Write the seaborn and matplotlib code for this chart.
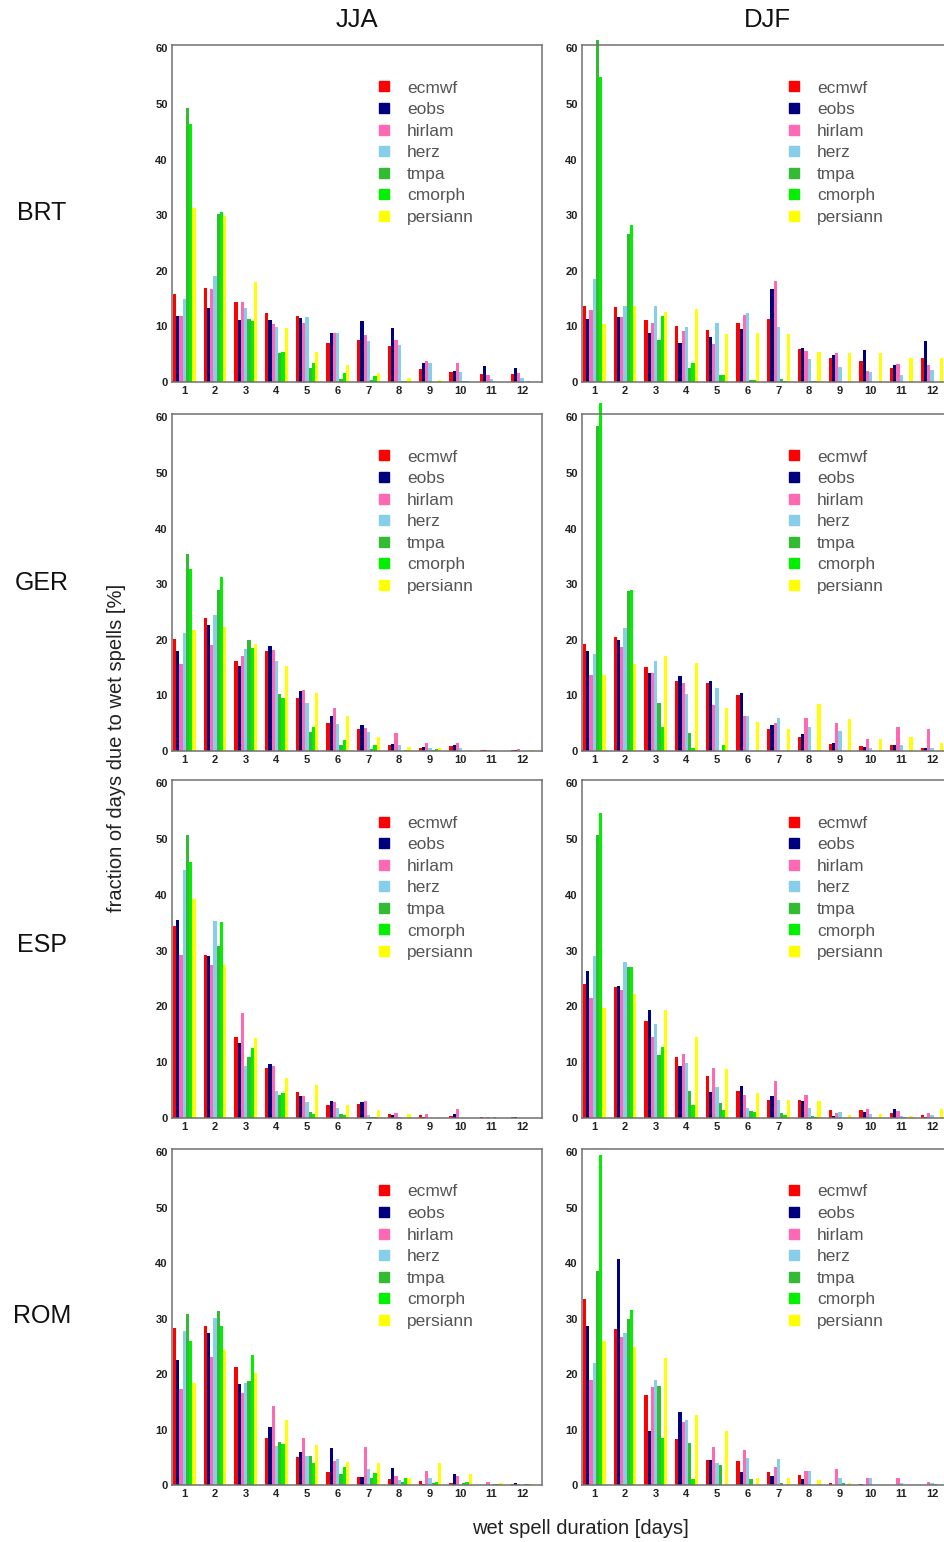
import pandas as pd
import seaborn as sns
import matplotlib.pyplot as plt
from matplotlib.lines import Line2D

days = list(range(1, 13))
products = ['ecmwf', 'eobs', 'hirlam', 'herz', 'tmpa', 'cmorph', 'persiann']
colors = ['#ff0000', '#00007f', '#ff69b4', '#87ceeb', '#33bb33', '#00f000', '#ffff00']
regions = ['BRT', 'GER', 'ESP', 'ROM']
seasons = ['JJA', 'DJF']

# one row per product (same order as `products`), one column per day 1..12
brt_jja = [
    [15.8, 16.9, 14.4, 12.4, 11.8, 7.0, 7.6, 6.5, 2.3, 1.8, 1.5, 1.5],
    [11.9, 13.3, 11.1, 11.2, 11.5, 8.9, 10.9, 9.7, 3.4, 2.0, 2.9, 2.5],
    [11.9, 16.8, 14.3, 10.5, 10.6, 8.9, 8.5, 7.5, 3.7, 3.5, 1.3, 1.7],
    [15.0, 19.0, 13.3, 9.9, 11.7, 8.8, 7.4, 6.7, 3.4, 1.8, 0.6, 0.8],
    [49.3, 30.2, 11.3, 5.2, 2.6, 0.5, 0.3, 0.1, 0.0, 0.1, 0.0, 0.0],
    [46.4, 30.5, 10.9, 5.4, 3.4, 1.6, 1.0, 0.2, 0.0, 0.1, 0.0, 0.1],
    [31.3, 29.8, 17.9, 9.7, 5.4, 3.0, 1.6, 0.8, 0.3, 0.0, 0.0, 0.0],
]
brt_djf = [
    [13.6, 13.4, 11.1, 10.1, 9.3, 10.6, 11.4, 6.0, 4.3, 3.8, 2.5, 4.3],
    [11.3, 11.7, 8.8, 7.1, 8.1, 9.5, 16.8, 6.1, 4.9, 5.8, 3.1, 7.4],
    [13.0, 11.7, 10.6, 9.2, 6.9, 12.0, 18.1, 5.5, 5.2, 1.9, 3.2, 3.1],
    [18.5, 13.6, 13.6, 9.9, 10.6, 12.4, 9.9, 4.1, 2.7, 1.8, 1.3, 2.2],
    [61.5, 26.6, 7.6, 2.5, 1.2, 0.4, 0.5, 0.2, 0.0, 0.0, 0.0, 0.0],
    [54.9, 28.2, 11.9, 3.5, 1.2, 0.4, 0.2, 0.1, 0.0, 0.0, 0.0, 0.0],
    [10.4, 13.7, 12.5, 13.1, 8.7, 8.9, 8.7, 5.4, 5.3, 5.2, 4.3, 4.3],
]
ger_jja = [
    [20.2, 23.9, 16.2, 17.9, 9.6, 5.1, 3.9, 1.0, 0.6, 0.9, 0.1, 0.1],
    [18.0, 22.7, 15.2, 18.9, 10.7, 6.3, 4.7, 1.3, 0.7, 1.1, 0.2, 0.1],
    [15.6, 19.0, 17.1, 18.1, 10.9, 7.7, 4.1, 3.2, 1.4, 1.4, 0.2, 0.3],
    [21.2, 24.5, 18.3, 16.1, 8.7, 4.9, 3.5, 1.0, 0.6, 0.6, 0.1, 0.0],
    [35.5, 29.0, 20.0, 10.3, 3.4, 1.0, 0.4, 0.0, 0.2, 0.0, 0.0, 0.0],
    [32.7, 31.2, 18.5, 9.6, 4.3, 2.0, 1.1, 0.1, 0.4, 0.0, 0.0, 0.0],
    [21.8, 22.3, 19.3, 15.3, 10.4, 6.3, 2.6, 0.7, 0.5, 0.2, 0.0, 0.2],
]
ger_djf = [
    [19.2, 20.5, 15.1, 12.6, 12.2, 10.1, 3.9, 2.6, 1.3, 0.9, 1.0, 0.6],
    [17.9, 19.9, 14.1, 13.4, 12.6, 10.4, 4.7, 3.0, 1.4, 0.7, 1.1, 0.6],
    [13.7, 18.7, 14.1, 12.2, 8.3, 6.3, 5.1, 5.9, 5.1, 2.2, 4.3, 4.0],
    [17.4, 22.2, 16.1, 10.2, 11.3, 6.3, 6.0, 4.4, 3.6, 0.5, 1.0, 0.5],
    [58.5, 28.8, 8.7, 3.2, 0.0, 0.0, 0.0, 0.0, 0.0, 0.0, 0.0, 0.0],
    [62.5, 28.9, 4.4, 0.5, 1.0, 0.0, 0.0, 0.0, 0.0, 0.0, 0.0, 0.0],
    [13.7, 15.7, 17.1, 15.9, 7.7, 5.2, 4.0, 8.4, 5.7, 2.2, 2.6, 1.4],
]
esp_jja = [
    [34.4, 29.3, 14.6, 8.9, 4.7, 2.3, 2.5, 0.8, 0.6, 0.4, 0.2, 0.2],
    [35.5, 29.0, 13.4, 9.6, 3.9, 3.1, 2.9, 0.5, 0.2, 0.8, 0.0, 0.1],
    [29.3, 27.4, 18.9, 9.3, 4.0, 2.9, 3.1, 0.9, 0.8, 1.7, 0.2, 0.0],
    [44.4, 35.4, 9.3, 4.8, 2.9, 1.8, 0.6, 0.1, 0.0, 0.0, 0.0, 0.0],
    [50.8, 30.9, 11.0, 4.1, 1.0, 0.7, 0.2, 0.0, 0.0, 0.0, 0.2, 0.0],
    [45.9, 35.2, 12.6, 4.4, 0.7, 0.5, 0.2, 0.0, 0.0, 0.0, 0.0, 0.0],
    [39.3, 27.4, 14.4, 7.2, 6.0, 2.4, 1.4, 0.7, 0.1, 0.0, 0.0, 0.0],
]
esp_djf = [
    [24.1, 23.4, 17.4, 10.9, 7.5, 4.8, 3.3, 3.3, 1.4, 1.4, 0.9, 0.5],
    [26.4, 23.6, 19.3, 9.3, 4.6, 5.8, 4.0, 3.1, 0.4, 1.1, 1.6, 0.2],
    [21.5, 22.9, 14.6, 11.5, 9.0, 4.1, 6.7, 4.1, 0.9, 1.6, 1.2, 0.9],
    [29.1, 28.0, 16.8, 9.9, 5.6, 1.8, 3.2, 1.8, 1.1, 0.8, 0.3, 0.6],
    [50.7, 27.1, 11.3, 4.8, 2.7, 1.2, 0.9, 0.4, 0.0, 0.0, 0.1, 0.0],
    [54.7, 27.1, 12.7, 2.3, 1.5, 1.1, 0.5, 0.2, 0.0, 0.0, 0.0, 0.0],
    [19.8, 22.3, 19.3, 14.5, 8.7, 4.5, 3.3, 3.1, 0.6, 0.8, 0.3, 1.7],
]
rom_jja = [
    [28.3, 28.7, 21.3, 8.5, 5.0, 2.3, 1.4, 1.0, 0.8, 0.3, 0.0, 0.2],
    [22.5, 27.4, 18.3, 10.4, 6.0, 6.7, 1.4, 3.1, 0.2, 2.0, 0.0, 0.3],
    [17.4, 23.1, 16.6, 14.3, 8.4, 4.4, 6.8, 1.7, 2.6, 1.6, 0.6, 0.2],
    [27.7, 30.2, 18.4, 7.1, 5.2, 4.7, 2.9, 0.9, 1.2, 0.1, 0.0, 0.0],
    [30.9, 31.4, 18.7, 7.7, 5.2, 2.0, 1.2, 0.5, 0.3, 0.3, 0.1, 0.1],
    [26.0, 28.7, 23.5, 7.4, 4.0, 3.3, 2.1, 1.2, 0.6, 0.6, 0.2, 0.2],
    [18.4, 24.3, 20.2, 11.7, 7.2, 4.1, 3.9, 1.2, 3.9, 2.0, 0.3, 0.2],
]
rom_djf = [
    [33.5, 28.2, 16.3, 8.3, 4.5, 4.3, 2.4, 1.8, 0.3, 0.2, 0.0, 0.0],
    [28.7, 40.7, 9.7, 13.1, 4.5, 2.4, 1.6, 1.0, 0.0, 0.0, 0.0, 0.0],
    [18.9, 26.7, 17.6, 11.4, 6.8, 6.3, 3.2, 2.6, 2.8, 1.3, 1.3, 0.6],
    [22.0, 27.5, 19.0, 11.8, 4.0, 4.8, 4.6, 2.6, 1.2, 1.2, 0.3, 0.4],
    [38.6, 30.0, 17.9, 7.6, 3.6, 1.0, 0.3, 0.0, 0.4, 0.0, 0.0, 0.2],
    [59.6, 31.6, 8.4, 1.0, 0.0, 0.0, 0.0, 0.0, 0.0, 0.0, 0.0, 0.0],
    [26.0, 24.8, 22.9, 12.7, 9.7, 1.3, 1.3, 0.9, 0.3, 0.0, 0.0, 0.0],
]

panels = [[brt_jja, brt_djf], [ger_jja, ger_djf], [esp_jja, esp_djf], [rom_jja, rom_djf]]

sns.set_style("white")
plt.rcParams['font.family'] = ['Liberation Sans', 'DejaVu Sans']

W, H = 945, 1542
fig = plt.figure(figsize=(W / 100, H / 100), dpi=100)

col_left = [172, 582]
ax_w = 370
row_tb = [(45, 382), (414, 751), (780, 1118), (1149, 1485)]
palette = dict(zip(products, colors))

for r, (top, bot) in enumerate(row_tb):
    for c in range(2):
        ax = fig.add_axes([col_left[c] / W, 1 - bot / H, ax_w / W, (bot - top) / H])
        table = panels[r][c]
        df = pd.DataFrame([(d, p, table[i][j]) for i, p in enumerate(products)
                           for j, d in enumerate(days)], columns=['day', 'product', 'value'])
        sns.barplot(data=df, x='day', y='value', hue='product', order=days,
                    hue_order=products, palette=palette, saturation=1, width=0.74,
                    errorbar=None, legend=False, linewidth=0, ax=ax)
        for p in ax.patches:
            p.set_clip_on(False)
        ax.set_xlim(-0.4, 11.65)
        ax.set_ylim(0, 60.6)
        ax.set_yticks(range(0, 61, 10))
        ax.set_xlabel('')
        ax.set_ylabel('')
        ax.tick_params(length=0, labelsize=8, pad=3, colors='#222222')
        for t in ax.get_xticklabels() + ax.get_yticklabels():
            t.set_fontweight('bold')
        for s in ax.spines.values():
            s.set_color('#707070')
            s.set_linewidth(1.1)
        handles = [Line2D([], [], marker='s', ls='none', color=col, markersize=7.5)
                   for col in colors]
        ax.legend(handles, products, loc='upper left', bbox_to_anchor=(0.554, 0.895),
                  frameon=False, fontsize=12.5, labelspacing=0.37, handlelength=0.8,
                  handletextpad=0.93, borderpad=0, borderaxespad=0, labelcolor='#555555')

for c, s in enumerate(seasons):
    fig.text((col_left[c] + 185) / W, 1 - 20 / H, s, ha='center', va='center', fontsize=18.5,
             color='#111111')
row_y = [213, 583, 945, 1316]
for r, name in enumerate(regions):
    fig.text(42 / W, 1 - row_y[r] / H, name, ha='center', va='center', fontsize=18,
             color='#111111')

fig.text(117 / W, 1 - 748 / H, 'fraction of days due to wet spells [%]', rotation=90,
         ha='center', va='center', fontsize=14.5, color='#222222')
fig.text(580 / W, 1 - 1528 / H, 'wet spell duration [days]', ha='center', va='center',
         fontsize=14.5, color='#222222')

fig.savefig('out.png', dpi=100)
